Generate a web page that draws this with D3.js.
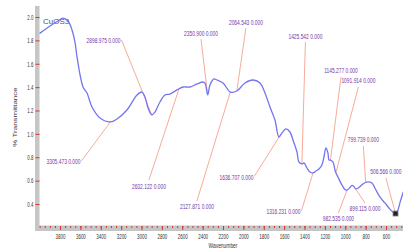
<!DOCTYPE html>
<html><head><meta charset="utf-8">
<script src="https://cdn.jsdelivr.net/npm/d3@7"></script>
<style>
html,body{margin:0;padding:0;background:#fff;overflow:hidden}
svg{display:block;font-family:"Liberation Sans",Arial,sans-serif}
</style></head><body>
<svg id="c" width="403" height="248"></svg>
<script>
// ---- data ----
const wavenumber = [4000,3898,3820,3771,3721,3682,3653,3633,3574,3535,3486,3407,3305,3241,3143,3044,2995,2966,2936,2899,2868,2819,2770,2720,2652,2593,2524,2456,2397,2377,2350,2328,2289,2259,2200,2127,2064,1985,1906,1837,1788,1739,1690,1651,1621,1582,1543,1513,1474,1455,1425,1405,1376,1347,1316,1288,1258,1229,1209,1190,1170,1160,1145,1121,1101,1091,1072,1033,1003,985,955,934,915,899,876,855,836,807,777,738,709,660,611,571,535,507,485,460,430];
const transmittance = [1.86,1.923,1.966,1.991,1.966,1.889,1.786,1.658,1.401,1.35,1.23,1.136,1.102,1.127,1.204,1.333,1.358,1.316,1.222,1.162,1.187,1.273,1.333,1.341,1.376,1.401,1.401,1.427,1.444,1.435,1.333,1.418,1.47,1.461,1.435,1.358,1.367,1.435,1.461,1.435,1.35,1.23,1.119,0.973,1.008,1.042,1.016,0.948,0.845,0.76,0.743,0.751,0.708,0.674,0.666,0.683,0.7,0.734,0.802,0.879,0.837,0.777,0.775,0.76,0.691,0.665,0.631,0.563,0.525,0.518,0.54,0.56,0.55,0.53,0.535,0.55,0.565,0.582,0.589,0.58,0.537,0.46,0.409,0.366,0.333,0.318,0.345,0.42,0.505];

const peakWn   = [3305.473,2898.975,2632.122,2350.900,2127.871,2064.543,1636.707,1425.542,1316.231,1145.277,1091.914,982.535,899.115,799.739,506.566];
const peakVal  = [0,0,0,0,0,0,0,0,0,0,0,0,0,0,0];
// label anchor (in data coordinates: wavenumber, transmittance)
const labelWn  = [3766,3373,2927,2416,2456,1975,2068,1391,1607,1042,871,1067,807,822,601];
const labelT   = [0.76,1.795,0.554,1.863,0.375,1.957,0.631,1.837,0.332,1.538,1.453,0.272,0.358,0.948,0.674];
const labelSide= ["r","r","t","b","t","b","r","b","r","b","b","t","t","b","b"];

const xTicks = [3800,3600,3400,3200,3000,2800,2600,2400,2200,2000,1800,1600,1400,1200,1000,800,600,400];
const xMinor = d3.range(4000,399,-50);
const yTicks = [0.4,0.6,0.8,1.0,1.2,1.4,1.6,1.8,2.0];
const sampleName = "CuOS3";

// ---- layout ----
const svg = d3.select("#c");
const x = d3.scaleLinear().domain([3800,600]).range([60,386]);
const y = d3.scaleLinear().domain([0.4,2.0]).range([204,17]);
const axisCol = "#c6c6c6", tickCol = "#e0302a";

// axis bars
svg.append("rect").attr("x",35).attr("y",6).attr("width",4.5).attr("height",225).attr("fill",axisCol);
svg.append("rect").attr("x",35).attr("y",225.5).attr("width",368).attr("height",5.5).attr("fill",axisCol);

// x axis minor ticks
const gxm = svg.append("g").attr("transform","translate(0,226)")
  .call(d3.axisBottom(x).tickValues(xMinor).tickSize(2).tickFormat(""));
gxm.select(".domain").remove();
gxm.selectAll("line").attr("stroke",tickCol).attr("stroke-width",1);

// x axis
const gx = svg.append("g").attr("transform","translate(0,226)")
  .call(d3.axisBottom(x).tickValues(xTicks).tickSize(4).tickPadding(4.5).tickFormat(d3.format("d")));
gx.select(".domain").remove();
gx.selectAll("line").attr("stroke",tickCol).attr("stroke-width",1);
gx.selectAll("text").attr("fill","#333").style("font-size","7px")
  .attr("transform","scale(0.64,1)");

// y axis
const gy = svg.append("g").attr("transform","translate(39.5,0)")
  .call(d3.axisLeft(y).tickValues(yTicks).tickSize(4).tickPadding(6).tickFormat(d3.format(".1f")));
gy.select(".domain").remove();
gy.selectAll("line").attr("stroke",tickCol).attr("stroke-width",1);
gy.selectAll("text").attr("fill","#333").style("font-size","7px")
  .attr("transform","scale(0.62,1)");

// axis titles
svg.append("text").attr("transform","translate(17,117) scale(0.7,1) rotate(-90)")
  .attr("text-anchor","middle").attr("fill","#333").style("font-size","8px").text("% Transmittance");
svg.append("text").attr("transform","translate(223,247.5) scale(0.7,1)")
  .attr("text-anchor","middle").attr("fill","#333").style("font-size","7px").text("Wavenumber");

// sample name
svg.append("text").attr("x",43).attr("y",24).attr("fill","#555").style("font-size","8px").text(sampleName);

// spectrum
const pts = wavenumber.map((w,i)=>[w,transmittance[i]]);
const tAt = w => {
  for (let i=0;i<pts.length-1;i++){
    const a=pts[i],b=pts[i+1];
    if (w<=a[0] && w>=b[0]) return a[1]+(b[1]-a[1])*(a[0]-w)/(a[0]-b[0]);
  }
  return pts[pts.length-1][1];
};

// annotations
const ann = svg.append("g");
peakWn.forEach((w,i)=>{
  const cx = x(labelWn[i]), cy = y(labelT[i]);
  const t = ann.append("text").attr("transform",`translate(${cx},${cy+2.5}) scale(0.7,1)`)
    .attr("text-anchor","middle").attr("fill","#7238a8").style("font-size","7px")
    .text(d3.format(".3f")(w)+" "+d3.format(".3f")(peakVal[i]));
  const hw = t.node().getComputedTextLength()*0.7/2;
  let sx=cx, sy=cy;
  if (labelSide[i]==="r"){ sx=cx+hw+1; sy=cy-1; }
  else if (labelSide[i]==="t"){ sy=cy-6; }
  else { sy=cy+6; }
  ann.insert("line","text").attr("x1",sx).attr("y1",sy)
    .attr("x2",x(w)).attr("y2",y(tAt(w)))
    .attr("stroke","#f6a28c").attr("stroke-width",0.9);
});

const line = d3.line().x(d=>x(d[0])).y(d=>y(d[1])).curve(d3.curveCatmullRom.alpha(0.5));
svg.append("path").datum(pts).attr("d",line).attr("fill","none")
  .attr("stroke","#7474f2").attr("stroke-width",1.3);

// marker at last peak
const mw = peakWn[peakWn.length-1];
svg.append("rect").attr("x",x(mw)-2.5).attr("y",y(tAt(mw))-2.5).attr("width",5).attr("height",5)
  .attr("fill","#222").attr("stroke","#888").attr("stroke-width",0.8);
</script>
</body></html>
